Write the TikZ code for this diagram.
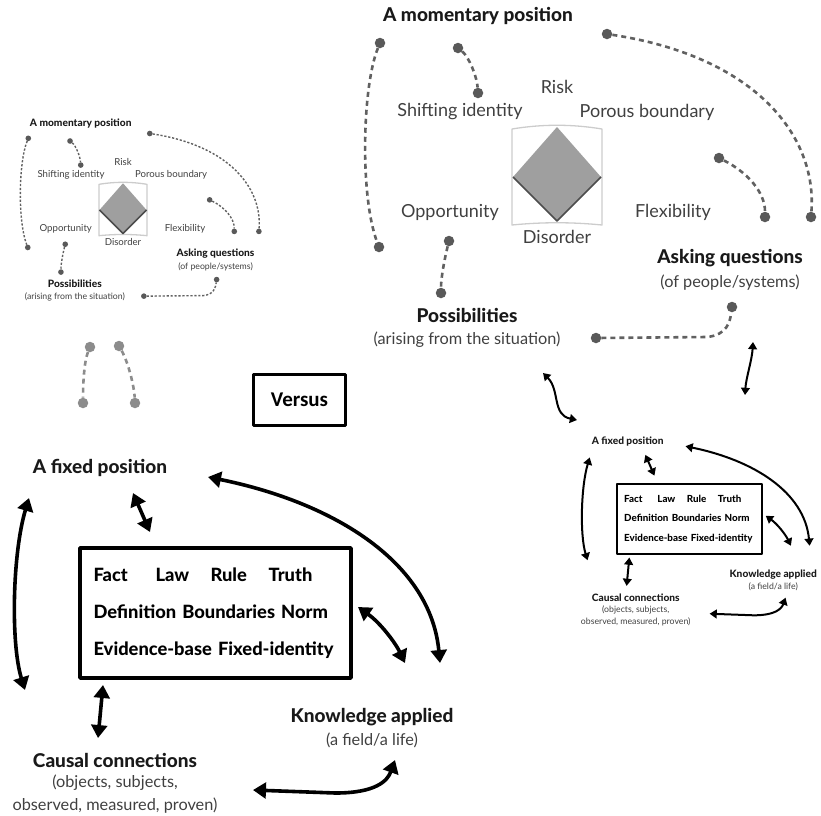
\documentclass[tikz,border=0pt]{standalone}
\usepackage{fontspec}
\setmainfont{Lato}[BoldFont={Lato Heavy}]
\newfontfamily\versusfont{Carlito}
\usetikzlibrary{arrows.meta,positioning}

\def\lw{3.6pt}   % arrow width
\def\lk{2.6pt} % dashed link width
\def\dlen{5pt} % dash length

\tikzset{
  lbl/.style={font=\fontsize{18}{20}\selectfont, text=black!75},
  head/.style={font=\fontsize{19}{22}\selectfont\bfseries, text=black!90},
  sub/.style={font=\fontsize{16.3}{22.5}\selectfont, text=black!75, align=center},
  dot/.style={circle, fill=black!65, inner sep=0pt, minimum size=10.5pt},
  link/.style={line width=\lk, black!62, dash pattern=on \dlen off 0.8*\dlen},
  twoway/.style={line width=\lw, line cap=round,
    {Triangle[length=0pt 3.6,width=0pt 4.4]}-{Triangle[length=0pt 3.6,width=0pt 4.4]}},
  fixbox/.style={draw, line width=\lw, minimum width=271pt, minimum height=130pt,
    text width=244pt, align=left, font=\fontsize{18.3}{37}\selectfont\bfseries},
}

% momentary position, centred on the diamond
\newcommand{\momentarymap}{%
  \draw[gray!40, line width=1.3pt] (-45,-48) .. controls (-15,-53) and (15,-53) .. (45,-48)
    -- (45,48) .. controls (15,45) and (-15,45) .. (-45,48) -- cycle;
  \fill[gray!75] (0,-50) -- (44,0) -- (0,44) -- (-44,0) -- cycle;
  \draw[black!70, line width=1.5pt] (-44,0) -- (0,44) -- (44,0);
  \node[head] (mom) at (-79,-161) {A momentary position};
  \node[lbl] (risk) at (0,-90) {Risk};
  \node[lbl] (shift) at (-97,-65) {Shifting identity};
  \node[lbl] (porous) at (90,-65) {Porous boundary};
  \node[lbl] (opp) at (-107,35) {Opportunity};
  \node[lbl] (flex) at (116,35) {Flexibility};
  \node[lbl] (dis) at (0,60) {Disorder};
  \node[head] (ask) at (173,81) {Asking questions};
  \node[sub] (askof) at (173,106) {(of people/systems)};
  \node[head] (poss) at (-90,138) {Possibilities};
  \node[sub] (possof) at (-90,163) {(arising from the situation)};
  \node[dot] (a1) at (-177,-134) {}; \node[dot] (a2) at (-178,70) {};
  \node[dot] (b1) at (-99,-129) {};  \node[dot] (b2) at (-79,-84) {};
  \node[dot] (c1) at (50,-143) {};   \node[dot] (c2) at (254,40) {};
  \node[dot] (d1) at (162,-19) {};   \node[dot] (d2) at (208,40) {};
  \node[dot] (e1) at (-108,64) {};   \node[dot] (e2) at (-116,116) {};
  \node[dot] (f1) at (39,161) {};    \node[dot] (f2) at (175,130) {};
  \draw[link] (a1) .. controls (-195,-90) and (-197,20) .. (a2);
  \draw[link] (b1) .. controls (-88,-120) and (-80,-100) .. (b2);
  \draw[link] (c1) .. controls (200,-120) and (260,-40) .. (c2);
  \draw[link] (d1) .. controls (190,-5) and (208,15) .. (d2);
  \draw[link] (e1) .. controls (-112,80) and (-116,100) .. (e2);
  \draw[link] (f1) -- (150,160) .. controls (170,158) and (173,145) .. (f2);
}

% fixed position, centred on the box
\newcommand{\fixedmap}{%
  \node[fixbox] (facts) at (0,0) {\makebox[62pt][l]{Fact}\makebox[55pt][l]{Law}\makebox[58pt][l]{Rule}Truth\\
    Definition Boundaries Norm\\ Evidence-base Fixed-identity};
  \node[head] (fix) at (-115.5,-145) {A fixed position};
  \node[head] (know) at (156.5,104) {Knowledge applied};
  \node[sub] (knowof) at (156.5,127) {(a field/a life)};
  \node[head] (causal) at (-100.5,147) {Causal connections};
  \node[sub] (causalof) at (-100.5,181) {(objects, subjects,\\observed, measured, proven)};
  \coordinate (p1) at (-186.5,-115); \coordinate (p2) at (-190.5,77);
  \coordinate (q1) at (-82.5,-120);  \coordinate (q2) at (-65.5,-81);
  \coordinate (r1) at (-7.5,-136);   \coordinate (r2) at (224.5,50);
  \coordinate (s1) at (142.5,-6);    \coordinate (s2) at (189.5,50);
  \coordinate (t1) at (-112.5,72);   \coordinate (t2) at (-117.5,125);
  \coordinate (u1) at (37.5,177);    \coordinate (u2) at (179.5,147);
  \draw[twoway] (p1) .. controls (-203,-60) and (-205,30) .. (p2);
  \draw[twoway] (q1) -- (q2);
  \draw[twoway] (r1) .. controls (120,-110) and (215,-50) .. (r2);
  \draw[twoway] (s1) .. controls (165,10) and (180,30) .. (s2);
  \draw[twoway] (t1) -- (t2);
  \draw[twoway] (u1) -- (120,180) .. controls (160,180) and (172,168) .. (u2);
}

\begin{document}
\begin{tikzpicture}[x=1pt, y=-1pt, line join=round]
\useasboundingbox (0,0) rectangle (821,815);

% large momentary position
\begin{scope}[shift={(557,177)}]
  \momentarymap
\end{scope}

% small momentary position
\begin{scope}[shift={(123,210)}, scale=0.535, transform shape]
  \def\lk{1.4pt}\def\dlen{2.2pt}
  \momentarymap
\end{scope}

% two loose dots
\node[dot, fill=black!45] (m1) at (90,347) {};
\node[dot, fill=black!45] (m2) at (83,403) {};
\node[dot, fill=black!45] (n1) at (119,346) {};
\node[dot, fill=black!45] (n2) at (135,403) {};
\draw[link, black!45] (m1) .. controls (84,362) and (83,385) .. (m2);
\draw[link, black!45] (n1) .. controls (128,362) and (134,385) .. (n2);

\node[draw, line width=3pt, minimum width=92pt, minimum height=51pt,
  font=\versusfont\bfseries\fontsize{21}{24}\selectfont] (versus) at (299.5,400) {Versus};

% large fixed position
\begin{scope}[shift={(215.5,613)}]
  \fixedmap
\end{scope}

% small fixed position
\begin{scope}[shift={(689.5,519)}, scale=0.535, transform shape]
  \def\lw{2pt}
  \fixedmap
\end{scope}

% links between the halves
\def\lw{2pt}
\coordinate (w1) at (543,373); \coordinate (w2) at (577,420);
\coordinate (v1) at (753,342); \coordinate (v2) at (745,395);
\draw[twoway] (w1) .. controls (560,390) and (552,415) .. (w2);
\draw[twoway] (v1) .. controls (752,360) and (746,378) .. (v2);
\end{tikzpicture}
\end{document}
